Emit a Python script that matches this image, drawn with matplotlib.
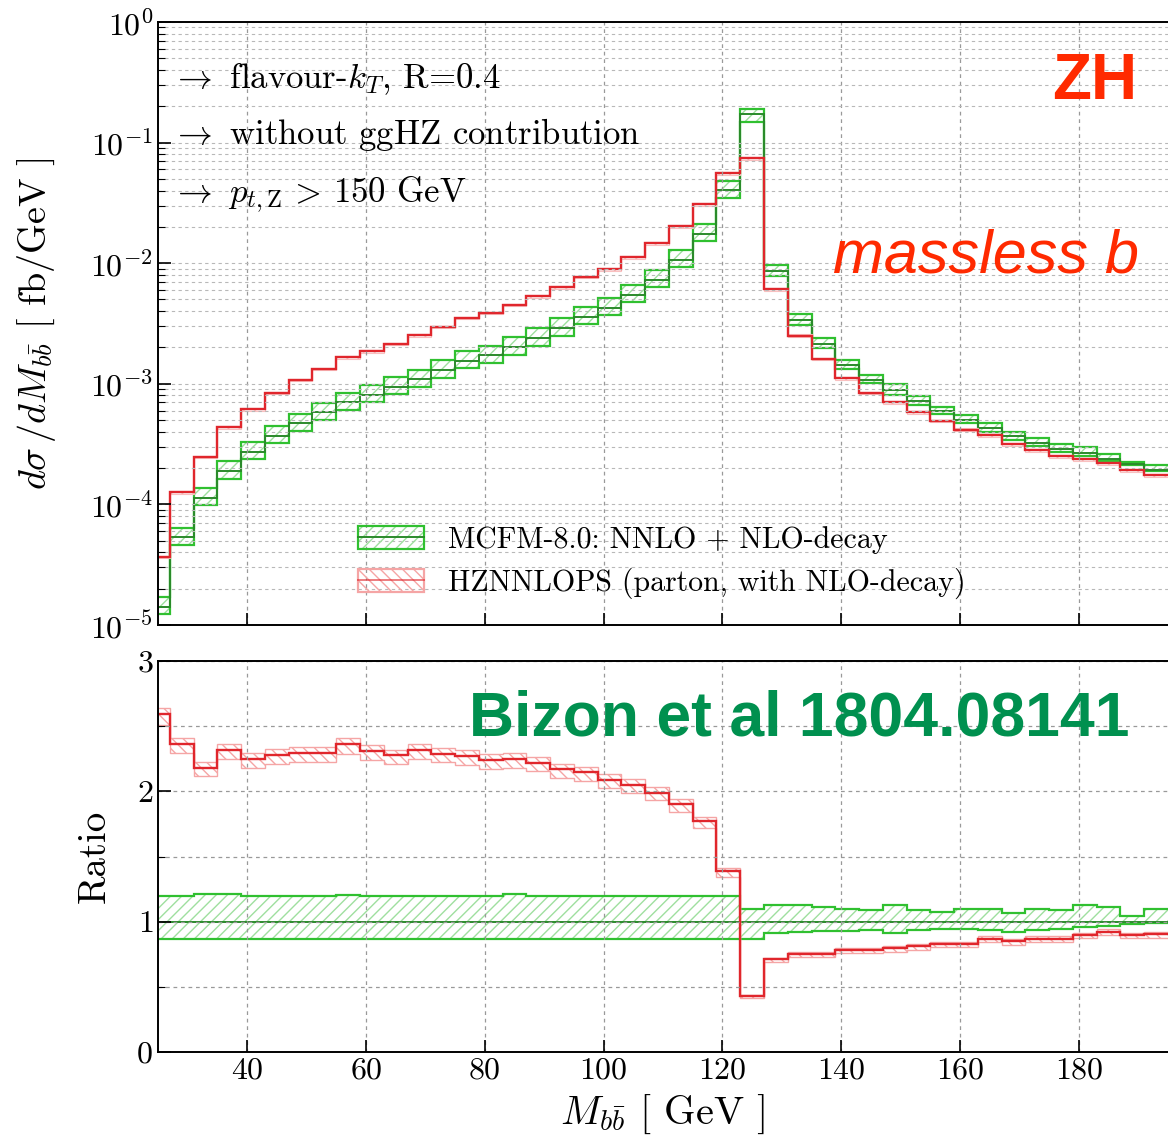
import numpy as np
import matplotlib.pyplot as plt
from matplotlib.patches import Patch
from matplotlib.lines import Line2D
from matplotlib.ticker import LogLocator, MultipleLocator, NullFormatter

plt.rcParams['mathtext.fontset'] = 'cm'
plt.rcParams['font.family'] = ['cmr10', 'DejaVu Serif']
plt.rcParams['axes.formatter.use_mathtext'] = True
plt.rcParams['hatch.linewidth'] = 1.0

# bin edges of M_bb [GeV], 4 GeV bins
edges = np.arange(23, 196, 4)

# MCFM-8.0 NNLO + NLO-decay, central value [fb/GeV]
mcfm = np.array([1.42e-5, 5.35e-5, 1.14e-4, 1.88e-4, 2.73e-4, 3.70e-4, 4.70e-4, 5.8e-4,
                 7.0e-4, 8.1e-4, 9.45e-4, 1.09e-3, 1.30e-3, 1.55e-3, 1.73e-3, 2.01e-3,
                 2.40e-3, 2.90e-3, 3.60e-3, 4.28e-3, 5.47e-3, 7.32e-3, 1.065e-2, 1.75e-2,
                 4.03e-2, 0.172, 8.55e-3, 3.35e-3, 2.15e-3, 1.43e-3, 1.08e-3, 8.8e-4,
                 7.2e-4, 5.95e-4, 5.03e-4, 4.3e-4, 3.7e-4, 3.23e-4, 2.88e-4, 2.65e-4,
                 2.37e-4, 2.15e-4, 1.92e-4])

# MCFM scale band relative to central
mcfm_up = np.array([1.20, 1.20, 1.21, 1.21, 1.20, 1.20, 1.20, 1.20, 1.205, 1.20, 1.20,
                    1.20, 1.20, 1.20, 1.20, 1.21, 1.20, 1.20, 1.20, 1.20, 1.20, 1.20,
                    1.20, 1.20, 1.20, 1.095, 1.128, 1.128, 1.115, 1.095, 1.09, 1.128,
                    1.09, 1.077, 1.098, 1.098, 1.07, 1.098, 1.09, 1.128, 1.11, 1.04, 1.098])
mcfm_dn = np.array([0.865] * 26 + [0.915, 0.923, 0.925, 0.93, 0.935, 0.91, 0.935, 0.94,
                                   0.94, 0.935, 0.923, 0.935, 0.94, 0.957, 0.967, 0.98, 0.988])

# HZNNLOPS / MCFM ratio
ratio_hz = np.array([2.59, 2.365, 2.18, 2.32, 2.25, 2.28, 2.295, 2.295, 2.36, 2.31, 2.275,
                     2.32, 2.29, 2.27, 2.24, 2.25, 2.22, 2.17, 2.146, 2.09, 2.05, 1.99,
                     1.90, 1.77, 1.385, 0.43, 0.71, 0.75, 0.75, 0.78, 0.78, 0.795, 0.81,
                     0.83, 0.83, 0.87, 0.85, 0.87, 0.87, 0.898, 0.923, 0.898, 0.905])
hz_up = 1.02
hz_dn = 0.97

hz = mcfm * ratio_hz

GREEN = '#30c030'
GREEN_C = '#2a8a2a'
GREEN_H = '#9fdf9f'
RED = '#e0262c'
PINK = '#f5a5a5'

fig = plt.figure(figsize=(11.68, 11.43), dpi=100)
ax1 = fig.add_axes([0.1353, 0.4532, 0.8647, 0.5276])
ax2 = fig.add_axes([0.1353, 0.0796, 0.8647, 0.3421])

gdash = (0, (3, 3))

# ---- top panel
ax1.stairs(mcfm * mcfm_up, edges, baseline=mcfm * mcfm_dn, fill=True,
           facecolor='none', edgecolor=GREEN_H, hatch='///', lw=0)
ax1.stairs(mcfm * mcfm_up, edges, baseline=None, color=GREEN, lw=1.6)
ax1.stairs(mcfm * mcfm_dn, edges, baseline=None, color=GREEN, lw=1.6)
ax1.stairs(mcfm, edges, baseline=None, color=GREEN_C, lw=1.4)

ax1.stairs(hz * hz_up, edges, baseline=hz * hz_dn, fill=True,
           facecolor='none', edgecolor='#f9c8c8', hatch='\\\\\\', lw=0)
ax1.stairs(hz * hz_up, edges, baseline=None, color='#f9c0c0', lw=0.8)
ax1.stairs(hz * hz_dn, edges, baseline=None, color='#f9c0c0', lw=0.8)
ax1.stairs(hz, edges, baseline=None, color=RED, lw=1.7)

ax1.set_yscale('log')
ax1.set_xlim(25, 195)
ax1.set_ylim(1e-5, 1)
ax1.yaxis.set_major_locator(LogLocator(base=10, numticks=10))
ax1.yaxis.set_minor_locator(LogLocator(base=10, subs=np.arange(2, 10), numticks=10))
ax1.yaxis.set_minor_formatter(NullFormatter())
ax1.xaxis.set_major_locator(MultipleLocator(20))
ax1.grid(which='both', axis='y', ls=gdash, color='#b8b8b8', lw=0.8)
ax1.grid(which='major', axis='x', ls=gdash, color='#999999', lw=0.9)
ax1.tick_params(which='both', direction='in', labelbottom=False)
ax1.tick_params(which='major', length=9, width=1.2, labelsize=23)
ax1.tick_params(which='minor', length=5, width=0.8)
ax1.set_ylabel(r'$d\sigma\,/dM_{b\bar{b}}$ [ fb/GeV ]', fontsize=27.5)
ax1.yaxis.set_label_coords(-0.099, 0.5)

for y, s in [(0.906, r'$\rightarrow$ flavour-$k_T$, R=0.4'),
             (0.813, r'$\rightarrow$ without ggHZ contribution'),
             (0.714, r'$\rightarrow$ $p_{t,\mathrm{Z}}\,>\,$150 GeV')]:
    ax1.text(0.013, y, s, transform=ax1.transAxes, fontsize=25, va='center')

h_mcfm = (Patch(facecolor='none', edgecolor=GREEN_H, hatch='///', lw=0),
          Patch(facecolor='none', edgecolor=GREEN, lw=1.6),
          Line2D([], [], color=GREEN_C, lw=1.4))
h_hz = (Patch(facecolor='none', edgecolor=PINK, hatch='\\\\\\', lw=0),
        Patch(facecolor='none', edgecolor=PINK, lw=1.6),
        Line2D([], [], color=RED, lw=1.4, alpha=0.6))
ax1.legend([h_mcfm, h_hz],
           ['MCFM-8.0: NNLO + NLO-decay', 'HZNNLOPS (parton, with NLO-decay)'],
           loc='upper left', bbox_to_anchor=(0.198, 0.164), frameon=False,
           fontsize=21.5, handlelength=2.2, handleheight=0.8, borderpad=0,
           borderaxespad=0, labelspacing=0.45, handletextpad=0.8)

# ---- ratio panel
ax2.stairs(mcfm_up, edges, baseline=mcfm_dn, fill=True,
           facecolor='none', edgecolor=GREEN_H, hatch='///', lw=0)
ax2.stairs(mcfm_up, edges, baseline=None, color=GREEN, lw=1.6)
ax2.stairs(mcfm_dn, edges, baseline=None, color=GREEN, lw=1.6)
ax2.stairs(np.ones_like(mcfm), edges, baseline=None, color=GREEN_C, lw=1.4)

ax2.stairs(ratio_hz * hz_up, edges, baseline=ratio_hz * hz_dn, fill=True,
           facecolor='none', edgecolor=PINK, hatch='\\\\\\', lw=0)
ax2.stairs(ratio_hz * hz_up, edges, baseline=None, color=PINK, lw=1.0)
ax2.stairs(ratio_hz * hz_dn, edges, baseline=None, color=PINK, lw=1.0)
ax2.stairs(ratio_hz, edges, baseline=None, color=RED, lw=1.7)

ax2.set_xlim(25, 195)
ax2.set_ylim(0, 3)
ax2.xaxis.set_major_locator(MultipleLocator(20))
ax2.yaxis.set_major_locator(MultipleLocator(1))
ax2.yaxis.set_minor_locator(MultipleLocator(0.5))
ax2.grid(which='both', axis='y', ls=gdash, color='#999999', lw=0.9)
ax2.grid(which='major', axis='x', ls=gdash, color='#999999', lw=0.9)
ax2.tick_params(which='both', direction='in')
ax2.tick_params(which='major', length=9, width=1.2, labelsize=23)
ax2.tick_params(which='minor', length=5, width=0.8)
ax2.set_ylabel('Ratio', fontsize=28)
ax2.yaxis.set_label_coords(-0.045, 0.5)
ax2.set_xlabel(r'$M_{b\bar{b}}$ [ GeV ]', fontsize=29, va='center')
ax2.xaxis.set_label_coords(0.50, -0.16)

for ax in (ax1, ax2):
    for sp in ax.spines.values():
        sp.set_linewidth(1.4)
    ax.spines['right'].set_visible(False)

fig.text(0.9375, 0.928, 'ZH', color='#ff2a00', fontsize=46, fontweight='bold',
         family='Liberation Sans', ha='center', va='center')
fig.text(0.844, 0.775, 'massless b', color='#ff2a00', fontsize=44, style='italic',
         family='Liberation Sans', ha='center', va='center')
fig.text(0.684, 0.371, 'Bizon et al 1804.08141', color='#00904f', fontsize=45,
         fontweight='bold', family='Liberation Sans', ha='center', va='center')

fig.savefig('out.png', dpi=100)
